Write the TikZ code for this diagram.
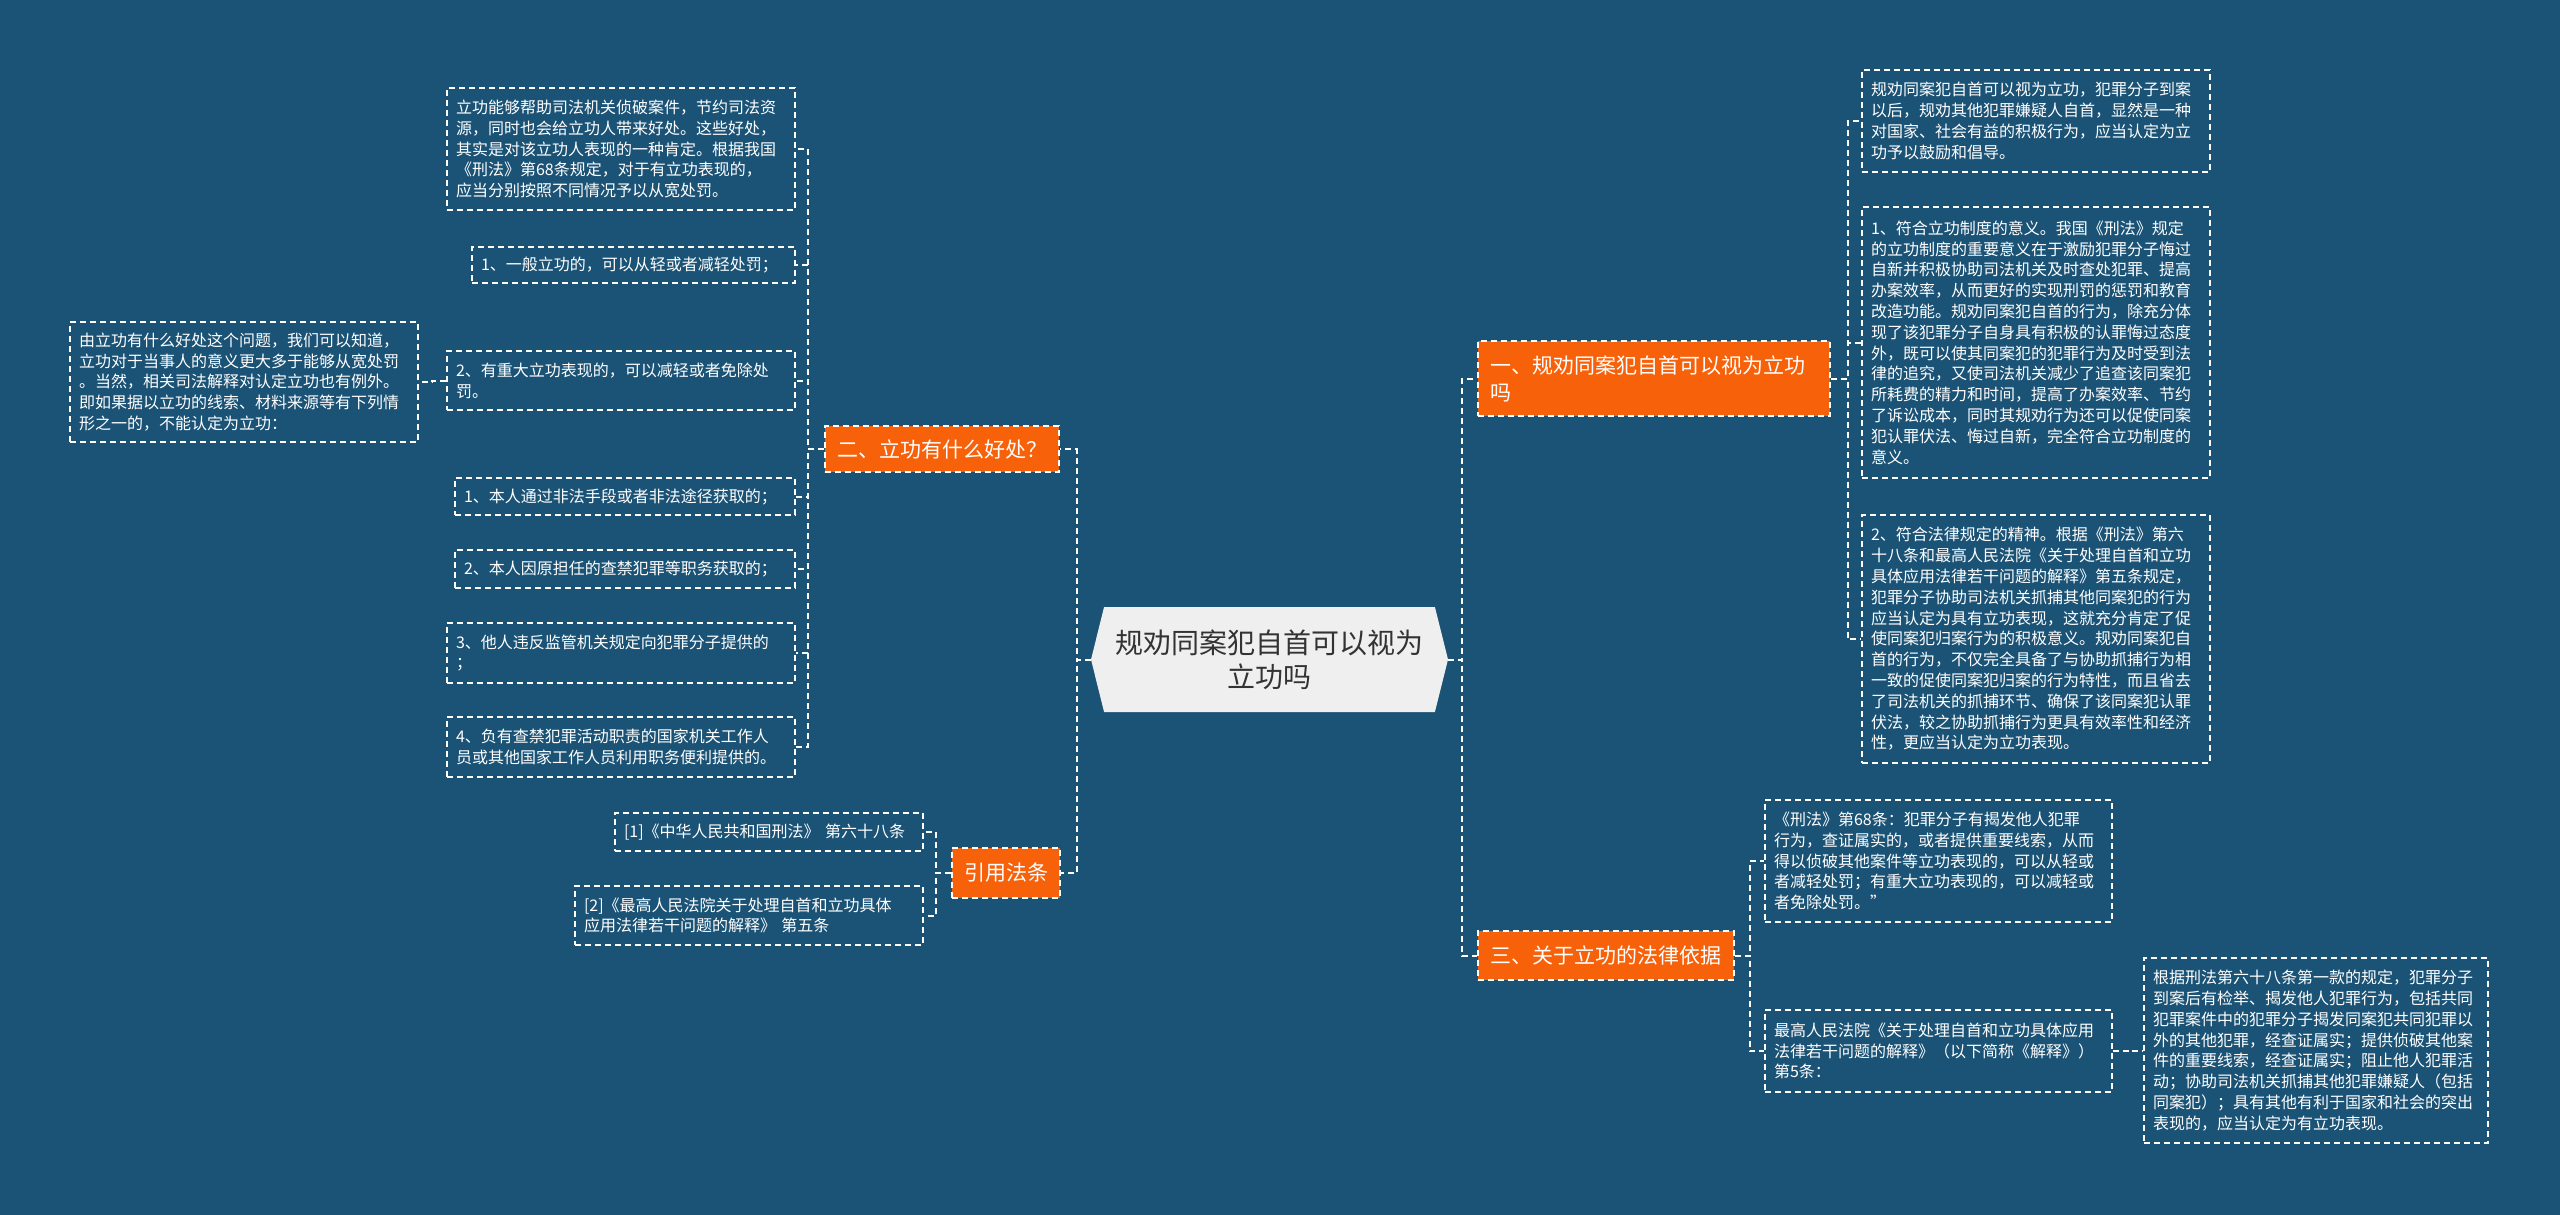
\documentclass[tikz,border=0pt]{standalone}
\usepackage{fontspec}
\newfontfamily\cjk{Noto Sans CJK SC}
\usetikzlibrary{shapes.symbols}
\definecolor{bgblue}{RGB}{27,83,118}
\definecolor{orangeb}{RGB}{247,97,9}
\definecolor{centerfill}{RGB}{239,239,239}
\definecolor{centertext}{RGB}{51,51,51}
\tikzset{
  conn/.style={draw=white, line width=1pt, dash pattern=on 3pt off 2pt},
  leaf/.style={draw=white, line width=0.8pt, dash pattern=on 3pt off 2pt, text=white, align=left, inner xsep=4.5pt, inner ysep=2pt, font={\cjk\fontsize{8}{10.4}\selectfont}},
  branch/.style={fill=orangeb, draw=white, line width=0.8pt, dash pattern=on 3pt off 2pt, text=white, align=left, inner xsep=6pt, inner ysep=2pt, font={\cjk\fontsize{10.5}{13.5}\selectfont}},
  root/.style={shape=signal, signal to=east and west, signal pointer angle=152, fill=centerfill, text=centertext, align=center, font={\cjk\fontsize{14}{17}\selectfont}}
}
\begin{document}
\begin{tikzpicture}[x=0.5pt,y=-0.5pt]
\fill[bgblue] (0,0) rectangle (2560,1215);
\useasboundingbox (0,0) rectangle (2560,1215);

% root
\node[root, minimum width=178.5pt, minimum height=52.5pt] (root) at (1269.5,659.5) {规劝同案犯自首可以视为\\立功吗};

% branches
\node[branch, minimum width=176pt, minimum height=37.5pt, text width=164pt] (b1) at (1654,378.5) {一、规劝同案犯自首可以视为立功\\吗};
\node[branch, minimum width=116pt, minimum height=23pt, align=center] (b2) at (942,449) {二、立功有什么好处？};
\node[branch, minimum width=53pt, minimum height=25pt, align=center] (b3) at (1006,873) {引用法条};
\node[branch, minimum width=128pt, minimum height=24.5pt, align=center] (b4) at (1606,955.5) {三、关于立功的法律依据};

% left leaves of b2
\node[leaf, minimum height=61pt, text width=165pt] (l1) at (621,149) {立功能够帮助司法机关侦破案件，节约司法资\\源，同时也会给立功人带来好处。这些好处，\\其实是对该立功人表现的一种肯定。根据我国\\《刑法》第68条规定，对于有立功表现的，\\应当分别按照不同情况予以从宽处罚。};
\node[leaf, minimum height=18pt, text width=152.5pt] (l2) at (633.5,265) {1、一般立功的，可以从轻或者减轻处罚；};
\node[leaf, minimum height=29.5pt, text width=165pt] (l3) at (621,380.5) {2、有重大立功表现的，可以减轻或者免除处\\罚。};
\node[leaf, minimum height=60pt, text width=165pt] (l3c) at (244,382) {由立功有什么好处这个问题，我们可以知道，\\立功对于当事人的意义更大多于能够从宽处罚\\。当然，相关司法解释对认定立功也有例外。\\即如果据以立功的线索、材料来源等有下列情\\形之一的，不能认定为立功：};
\node[leaf, minimum height=18.5pt, text width=161pt] (l4) at (625,496.5) {1、本人通过非法手段或者非法途径获取的；};
\node[leaf, minimum height=19pt, text width=161pt] (l5) at (625,569) {2、本人因原担任的查禁犯罪等职务获取的；};
\node[leaf, minimum height=30pt, text width=165pt] (l6) at (621,653) {3、他人违反监管机关规定向犯罪分子提供的\\；};
\node[leaf, minimum height=30pt, text width=165pt] (l7) at (621,747) {4、负有查禁犯罪活动职责的国家机关工作人\\员或其他国家工作人员利用职务便利提供的。};

% leaves of b3
\node[leaf, minimum height=19pt, text width=145pt] (r1) at (769,832) {[1]《中华人民共和国刑法》 第六十八条};
\node[leaf, minimum height=29.5pt, text width=165pt] (r2) at (749,915.5) {[2]《最高人民法院关于处理自首和立功具体\\应用法律若干问题的解释》 第五条};

% leaves of b1
\node[leaf, minimum height=51pt, text width=165pt] (ra) at (2036,121) {规劝同案犯自首可以视为立功，犯罪分子到案\\以后，规劝其他犯罪嫌疑人自首，显然是一种\\对国家、社会有益的积极行为，应当认定为立\\功予以鼓励和倡导。};
\node[leaf, minimum height=135.5pt, text width=165pt] (rb) at (2036,342.5) {1、符合立功制度的意义。我国《刑法》规定\\的立功制度的重要意义在于激励犯罪分子悔过\\自新并积极协助司法机关及时查处犯罪、提高\\办案效率，从而更好的实现刑罚的惩罚和教育\\改造功能。规劝同案犯自首的行为，除充分体\\现了该犯罪分子自身具有积极的认罪悔过态度\\外，既可以使其同案犯的犯罪行为及时受到法\\律的追究，又使司法机关减少了追查该同案犯\\所耗费的精力和时间，提高了办案效率、节约\\了诉讼成本，同时其规劝行为还可以促使同案\\犯认罪伏法、悔过自新，完全符合立功制度的\\意义。};
\node[leaf, minimum height=124pt, text width=165pt] (rc) at (2036,639) {2、符合法律规定的精神。根据《刑法》第六\\十八条和最高人民法院《关于处理自首和立功\\具体应用法律若干问题的解释》第五条规定，\\犯罪分子协助司法机关抓捕其他同案犯的行为\\应当认定为具有立功表现，这就充分肯定了促\\使同案犯归案行为的积极意义。规劝同案犯自\\首的行为，不仅完全具备了与协助抓捕行为相\\一致的促使同案犯归案的行为特性，而且省去\\了司法机关的抓捕环节、确保了该同案犯认罪\\伏法，较之协助抓捕行为更具有效率性和经济\\性，更应当认定为立功表现。};

% leaves of b4
\node[leaf, minimum height=61pt, text width=164.5pt] (rd) at (1938.5,861) {《刑法》第68条：犯罪分子有揭发他人犯罪\\行为，查证属实的，或者提供重要线索，从而\\得以侦破其他案件等立功表现的，可以从轻或\\者减轻处罚；有重大立功表现的，可以减轻或\\者免除处罚。”};
\node[leaf, minimum height=41pt, text width=164.5pt] (re) at (1938.5,1051) {最高人民法院《关于处理自首和立功具体应用\\法律若干问题的解释》（以下简称《解释》）\\第5条：};
\node[leaf, minimum height=92.5pt, text width=163pt] (rf) at (2316,1050.5) {根据刑法第六十八条第一款的规定，犯罪分子\\到案后有检举、揭发他人犯罪行为，包括共同\\犯罪案件中的犯罪分子揭发同案犯共同犯罪以\\外的其他犯罪，经查证属实；提供侦破其他案\\件的重要线索，经查证属实；阻止他人犯罪活\\动；协助司法机关抓捕其他犯罪嫌疑人（包括\\同案犯）；具有其他有利于国家和社会的突出\\表现的，应当认定为有立功表现。};

% connectors
\draw[conn] (root.west) -- ++(-14,0) |- (b2.east);
\draw[conn] (root.west) -- ++(-14,0) |- (b3.east);
\draw[conn] (root.east) -- ++(14,0) |- (b1.west);
\draw[conn] (root.east) -- ++(14,0) |- (b4.west);

\foreach \t in {l1,l2,l3,l4,l5,l6,l7}{
  \draw[conn] (b2.west) -- ++(-16,0) |- (\t.east);
}
\draw[conn] (l3.west) -- ++(-14,0) |- (l3c.east);

\foreach \t in {r1,r2}{
  \draw[conn] (b3.west) -- ++(-15,0) |- (\t.east);
}
\foreach \t in {ra,rb,rc}{
  \draw[conn] (b1.east) -- ++(17,0) |- (\t.west);
}
\foreach \t in {rd,re}{
  \draw[conn] (b4.east) -- ++(15,0) |- (\t.west);
}
\draw[conn] (re.east) -- ++(16,0) |- (rf.west);
\end{tikzpicture}
\end{document}
